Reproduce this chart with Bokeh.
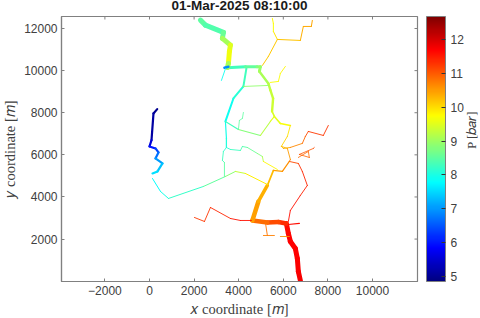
import math
from bokeh.plotting import figure
from bokeh.models import (ColumnDataSource, LinearAxis, LinearColorMapper, ColorBar,
                          FixedTicker, Range1d)
from bokeh.embed import file_html
from bokeh.resources import INLINE

title = "01-Mar-2025 08:10:00"
x_ticks = [-2000, 0, 2000, 4000, 6000, 8000, 10000]
y_ticks = [2000, 4000, 6000, 8000, 10000, 12000]
c_ticks = [5, 6, 7, 8, 9, 10, 11, 12]

# Each pipe: x [m], y [m], pressure [bar], drawn weight
trunk_x = [6765, 6675, 6630, 6540, 6317, 6227, 6138]
trunk_y = [33, 460, 1078, 1553, 1886, 2266, 2741]
trunk_p = [11.75, 11.75, 11.7, 11.7, 11.7, 11.65, 11.6]

west_x = [6138, 5779, 5286, 4614]
west_y = [2741, 2812, 2788, 2883]
west_p = [11.5, 11.2, 11.0, 10.7]

north_x = [4614, 4883, 5286, 5555]
north_y = [2883, 3786, 4546, 5258]
north_p = [10.5, 10.4, 10.3, 10.2]

link_x = [5555, 5958, 6272]
link_y = [5258, 5211, 5686]
link_p = [10.4, 10.5, 10.7]

loop_x = [6227, 6317, 6765, 7078, 6854, 6675, 6272]
loop_y = [2836, 3358, 4071, 4546, 5211, 5591, 5686]
loop_p = [11.6, 11.6, 11.5, 11.4, 11.4, 11.3, 11.0]

rect_x = [6675, 7123, 7167, 6720, 7347, 7392]
rect_y = [5876, 6161, 5876, 6019, 6303, 6350]
rect_p = [10.9, 10.9, 10.9, 11.0, 11.1, 11.2]

sw_x = [4570, 4077, 3629, 2733, 2464, 2016]
sw_y = [2883, 2883, 2978, 3501, 2836, 3026]
sw_p = [11.5, 11.6, 11.5, 11.3, 11.3, 11.2]

stub1_x = [5197, 5286]
stub1_y = [2788, 2170]
stub1_p = [10.8, 10.8]

stub2_x = [5107, 5600]
stub2_y = [2170, 2170]
stub2_p = [10.7, 10.7]

stub3_x = [5869, 6272]
stub3_y = [2122, 2122]
stub3_p = [10.6, 10.6]

stub4_x = [6227, 6720]
stub4_y = [2693, 2741]
stub4_p = [11.6, 11.6]

blue_x = [345, 179, 90, 0, 269, 403, 269, 582, 358, 134]
blue_y = [8170, 7966, 6698, 6398, 6303, 6113, 5828, 5591, 5211, 5116]
blue_p = [5.0, 5.0, 5.3, 5.8, 6.2, 6.5, 6.9, 7.2, 7.5, 7.6]

cyan_x = [134, 493, 851, 2419, 3405, 3853, 4301, 5286]
cyan_y = [4878, 4261, 3928, 4499, 4973, 5211, 5116, 4593]
cyan_p = [7.7, 7.9, 8.0, 8.4, 8.7, 9.0, 9.6, 10.1]

green_x = [3450, 3450, 3629, 4077, 4166, 4390, 4838, 5062, 5107, 5734]
green_y = [6778, 6350, 6256, 6208, 6398, 6350, 6065, 5923, 5686, 5306]
green_p = [8.0, 8.1, 8.2, 8.3, 8.4, 8.5, 8.7, 8.9, 9.4, 10.2]

greenb_x = [3450, 3315, 3270, 3360, 3360]
greenb_y = [6350, 6161, 5733, 5638, 4973]
greenb_p = [8.1, 8.2, 8.3, 8.4, 8.6]

upper_x = [3405, 3450, 3450]
upper_y = [7586, 6778, 6350]
upper_p = [7.9, 8.0, 8.1]

rise_x = [3405, 3763, 4211, 4346]
rise_y = [7586, 8678, 9248, 10103]
rise_p = [7.8, 8.0, 8.2, 8.4]

ridge_x = [3481, 4301, 4825, 4973, 4928, 5331, 5421, 5542, 5497, 5600, 5869, 6317]
ridge_y = [10137, 10184, 10184, 10184, 9961, 9391, 9073, 8678, 8061, 7823, 7491, 7396]
ridge_p = [8.2, 8.4, 8.7, 8.9, 9.0, 9.2, 9.3, 9.3, 9.4, 9.5, 9.6, 9.8]

top_x = [2285, 2509, 3315, 3270, 3629, 3584, 3539, 3494]
top_y = [12398, 12160, 11813, 11528, 11210, 10911, 10341, 10146]
top_p = [8.6, 8.4, 8.4, 8.8, 9.3, 9.7, 9.6, 8.6]

dot_x = [3360, 3539]
dot_y = [10137, 10184]
dot_p = [6.6, 7.2]

spur_x = [3405, 3226]
spur_y = [10090, 9533]
spur_p = [7.9, 7.9]

nne_x = [5062, 5331, 5734, 5555, 5555, 5510]
nne_y = [10245, 10673, 11481, 11861, 12241, 12478]
nne_p = [10.1, 10.2, 10.1, 9.7, 9.7, 9.8]

ne_x = [5734, 6765, 6899, 7258, 7302]
ne_y = [11481, 11433, 12098, 12098, 12383]
ne_p = [10.1, 10.3, 10.4, 10.4, 10.4]

fork_x = [5421, 5779, 5869, 6093]
fork_y = [9438, 9486, 9866, 10199]
fork_p = [9.7, 9.7, 9.7, 9.9]

cross_x = [4211, 5331]
cross_y = [9248, 9296]
cross_p = [8.6, 9.2]

mid_x = [3405, 3987, 4973, 5421, 5600]
mid_y = [7586, 7206, 6921, 7586, 7823]
mid_p = [8.0, 8.6, 9.0, 9.4, 9.6]

midb_x = [3987, 4032, 4166, 4211]
midb_y = [7206, 7634, 7729, 8014]
midb_p = [8.5, 8.5, 8.5, 8.5]

east_x = [6317, 6182, 5914, 6003, 6317, 6854, 6989, 7123, 7795, 8019]
east_y = [7396, 6873, 6403, 6304, 6351, 6543, 6873, 7111, 6921, 7396]
east_p = [9.9, 10.0, 10.1, 10.3, 10.5, 10.8, 11.0, 11.2, 11.3, 11.3]

eastb_x = [5914, 6182, 6317, 6272]
eastb_y = [6403, 6304, 5781, 5686]
eastb_p = [10.1, 10.4, 10.6, 10.7]

pipes = [
    (trunk_x, trunk_y, trunk_p, 5.0), (west_x, west_y, west_p, 4.5),
    (north_x[:2], north_y[:2], north_p[:2], 4.5), (north_x[1:3], north_y[1:3], north_p[1:3], 3.5),
    (north_x[2:], north_y[2:], north_p[2:], 1.8), (link_x, link_y, link_p, 1.2),
    (loop_x, loop_y, loop_p, 0.9), (rect_x, rect_y, rect_p, 0.8), (sw_x, sw_y, sw_p, 0.9),
    (stub1_x, stub1_y, stub1_p, 0.9), (stub2_x, stub2_y, stub2_p, 0.9),
    (stub3_x, stub3_y, stub3_p, 0.9), (stub4_x, stub4_y, stub4_p, 1.2),
    (blue_x, blue_y, blue_p, 2.2), (cyan_x, cyan_y, cyan_p, 1.0),
    (green_x, green_y, green_p, 0.9), (greenb_x, greenb_y, greenb_p, 0.9),
    (upper_x, upper_y, upper_p, 1.2), (rise_x, rise_y, rise_p, 2.0),
    (ridge_x[:5], ridge_y[:5], ridge_p[:5], 3.0), (ridge_x[4:9], ridge_y[4:9], ridge_p[4:9], 2.4),
    (ridge_x[8:], ridge_y[8:], ridge_p[8:], 1.6), (top_x, top_y, top_p, 5.0),
    (dot_x, dot_y, dot_p, 2.5), (spur_x, spur_y, spur_p, 0.9), (nne_x, nne_y, nne_p, 1.0),
    (ne_x, ne_y, ne_p, 1.0), (fork_x, fork_y, fork_p, 0.9), (cross_x, cross_y, cross_p, 0.9),
    (mid_x, mid_y, mid_p, 1.1), (midb_x, midb_y, midb_p, 0.8), (east_x, east_y, east_p, 0.9),
    (eastb_x, eastb_y, eastb_p, 0.9),
]


def jet(n=256):
    out = []
    for i in range(n):
        v = i / (n - 1)
        r = min(max(min(4 * v - 1.5, -4 * v + 4.5), 0), 1)
        g = min(max(min(4 * v - 0.5, -4 * v + 3.5), 0), 1)
        b = min(max(min(4 * v + 0.5, -4 * v + 2.5), 0), 1)
        out.append("#%02x%02x%02x" % (int(r * 255), int(g * 255), int(b * 255)))
    return out


mapper = LinearColorMapper(palette=jet(), low=4.85, high=12.68)
xs, ys, ps, ws = [], [], [], []
for px, py, pp, w in pipes:
    for i in range(len(px) - 1):
        xs.append(px[i:i + 2])
        ys.append(py[i:i + 2])
        ps.append((pp[i] + pp[i + 1]) / 2)
        ws.append(w)
src = ColumnDataSource(dict(xs=xs, ys=ys, p=ps, w=ws))

TXT = "#404040"
AX = "#808080"
x0, x1 = -3946, 12018
y0, y1 = -15, 12570
p = figure(width=480, height=318, frame_width=356, frame_height=265, output_backend="svg",
           toolbar_location=None, x_range=Range1d(x0, x1), y_range=Range1d(y0, y1),
           title=title, x_axis_type=None, y_axis_type=None, min_border_left=69,
           min_border_right=0, min_border_top=8, min_border_bottom=0,
           background_fill_color="white", margin=(-8, 0, 0, -8))
p.title.text_font = "Liberation Sans"
p.title.text_font_size = "13.5px"
p.title.text_color = "#1a1a1a"
p.title.align = "center"
p.title.offset = 0
p.title.standoff = 7
p.grid.visible = False
p.outline_line_color = AX
p.outline_line_width = 1.2


def style(ax, ticks, label=None):
    ax.ticker = FixedTicker(ticks=ticks)
    ax.minor_tick_line_color = None
    ax.major_tick_in = 3
    ax.major_tick_out = 0
    ax.major_tick_line_color = AX
    ax.axis_line_color = AX
    ax.axis_line_width = 1.2
    ax.major_label_text_color = TXT
    ax.major_label_text_font = "Liberation Sans"
    ax.major_label_text_font_size = "12px"
    ax.major_label_standoff = 4
    if label:
        ax.axis_label = label
        ax.axis_label_text_font = "Liberation Serif"
        ax.axis_label_text_font_style = "normal"
        ax.axis_label_text_font_size = "14.5px"
        ax.axis_label_text_color = TXT
        ax.axis_label_standoff = 3


bottom = LinearAxis()
style(bottom, x_ticks, "\U0001D465 coordinate [\U0001D45A]")
p.add_layout(bottom, "below")
left = LinearAxis()
style(left, y_ticks, "\U0001D466 coordinate [\U0001D45A]")
p.add_layout(left, "left")

# inward ticks on the top and right edges of the box
p.ray(x=x_ticks, y=[y1] * len(x_ticks), length=3, length_units="screen", angle=-math.pi / 2,
      line_color=AX, line_width=1)
p.ray(x=[x1] * len(y_ticks), y=y_ticks, length=3, length_units="screen", angle=math.pi,
      line_color=AX, line_width=1)

p.multi_line("xs", "ys", source=src, line_width="w", line_cap="round", line_join="round",
             line_color={"field": "p", "transform": mapper})

cb = ColorBar(color_mapper=mapper, ticker=FixedTicker(ticks=c_ticks), width=19, height=265,
              margin=0, padding=0, location=(9, 0), major_tick_in=4, major_tick_line_color="#333333",
              minor_tick_line_color=None, bar_line_color=AX, border_line_color=None,
              major_label_text_font="Liberation Sans", major_label_text_font_size="12px",
              major_label_text_color=TXT, label_standoff=5, background_fill_color=None)
p.add_layout(cb, "right")

label_ax = LinearAxis(ticker=FixedTicker(ticks=[]), axis_line_color=None, major_tick_line_color=None,
                      minor_tick_line_color=None, axis_label="P [\U0001D44F\U0001D44E\U0001D45F]",
                      axis_label_text_font="Liberation Serif", axis_label_text_font_style="normal",
                      axis_label_text_font_size="13px", axis_label_text_color=TXT,
                      axis_label_orientation=math.pi / 2, axis_label_standoff=5)
p.add_layout(label_ax, "right")

open("out.html", "w").write(file_html(p, INLINE))
